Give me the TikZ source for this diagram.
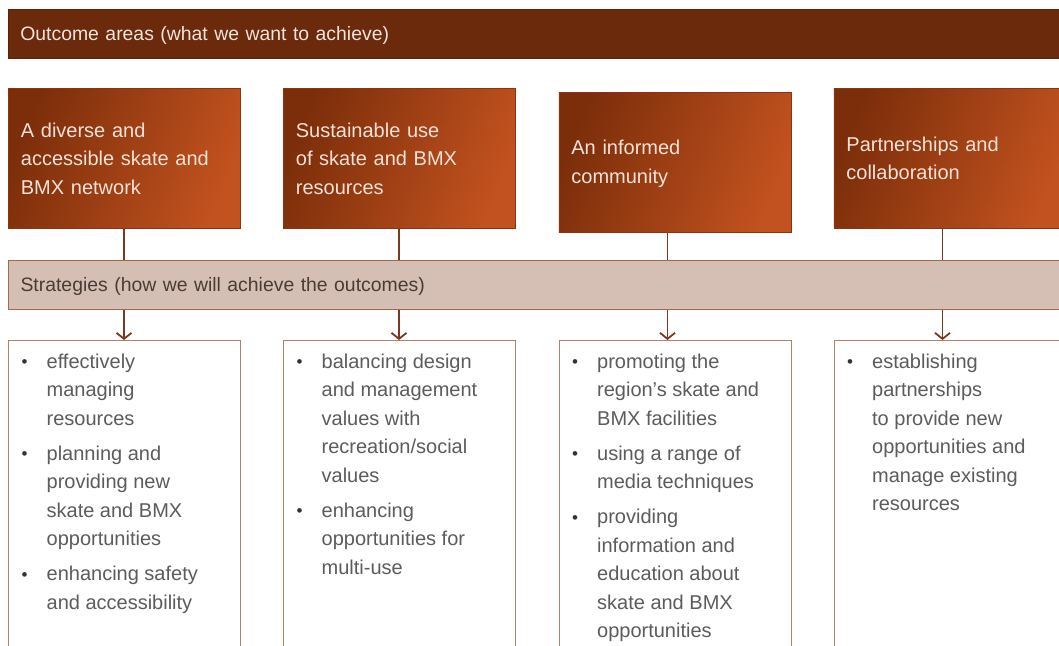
\documentclass[tikz,border=0pt]{standalone}
\usepackage{fontspec}
\setmainfont{Liberation Sans}
\usetikzlibrary{arrows.meta}
\definecolor{bannerc}{HTML}{6A2A0B}
\definecolor{bannertext}{HTML}{F3E4DC}
\definecolor{oc1}{HTML}{7C2E0A}
\definecolor{oc2}{HTML}{C2521F}
\definecolor{ocborder}{HTML}{8A3512}
\definecolor{octext}{HTML}{F4E2D8}
\definecolor{bandc}{HTML}{D5BFB4}
\definecolor{bandborder}{HTML}{A8674C}
\definecolor{bandtext}{HTML}{4A3B35}
\definecolor{connc}{HTML}{7A3820}
\definecolor{boxborder}{HTML}{B3806A}
\definecolor{listc}{HTML}{5C5C5C}
\newcommand{\bul}{\textcolor{black!80}{\raisebox{0.5pt}{\fontsize{17}{17}\selectfont •}}}
\newcommand{\sinktext}[2]{\raisebox{-#1}[\height][\depth]{#2}}
\begin{document}
\begin{tikzpicture}[x=1pt,y=-1pt,
  bannerbox/.style={fill=bannerc, draw=bannerc!85!black, line width=0.6pt, anchor=north west,
    minimum height=49pt, text width=1046pt, inner xsep=12pt, inner ysep=0pt, align=left,
    text=bannertext, font=\fontsize{19.4}{24}\selectfont},
  outcome/.style={left color=oc1, right color=oc2, shading angle=68, draw=ocborder, line width=0.8pt,
    anchor=north west, minimum height=140pt, text width=207pt, inner xsep=12.5pt, inner ysep=0pt,
    align=left, text=octext, font=\fontsize{20}{28.5}\selectfont},
  bandbox/.style={fill=bandc, draw=bandborder, line width=1pt, anchor=north west,
    minimum height=49pt, text width=1046pt, inner xsep=12pt, inner ysep=0pt, align=left,
    text=bandtext, font=\fontsize{19.4}{24}\selectfont},
  listbox/.style={fill=white, draw=boxborder, line width=1.2pt, anchor=north west,
    minimum width=232pt, minimum height=400pt, inner sep=0pt},
  listtext/.style={anchor=north west, inner sep=0pt, text=listc,
    font=\fontsize{20}{28.5}\selectfont},
  conn/.style={draw=connc, line width=1.8pt},
  arr/.style={draw=connc, line width=1.8pt, -{Straight Barb[length=6pt,width=15pt,line width=1.8pt]}}
]
\useasboundingbox (0,0) rectangle (1059,645);
\clip (0,0) rectangle (1059,645);

% banner
\node[bannerbox] (banner) at (8,8.5) {\sinktext{2pt}{Outcome areas (what we want to achieve)}};

% outcome boxes
\node[outcome] (o1) at (8,88) {A diverse and\\accessible skate and\\BMX network};
\node[outcome] (o2) at (283,88) {Sustainable use\\of skate and BMX\\resources};
\node[outcome] (o3) at (558.5,92) {\sinktext{1.5pt}{An informed}\\\sinktext{1.5pt}{community}};
\node[outcome] (o4) at (833.5,88) {Partnerships and\\collaboration};

% strategies band
\node[bandbox] (band) at (8,259.5) {\sinktext{2pt}{Strategies (how we will achieve the outcomes)}};

% list boxes
\node[listbox] (b1) at (8,340) {};
\node[listbox] (b2) at (283,340) {};
\node[listbox] (b3) at (558.5,340) {};
\node[listbox] (b4) at (833.5,340) {};

% connector x positions
\coordinate (x1) at (124,0);
\coordinate (x2) at (399,0);
\coordinate (x3) at (667.5,0);
\coordinate (x4) at (942.5,0);

\foreach \i in {1,2,3,4}{
  \draw[conn] (o\i.south -| x\i) -- (band.north -| x\i);
  \draw[arr] (band.south -| x\i) -- (b\i.north -| x\i);
}

% list texts
\node[listtext] (t1) at ([xshift=13.5pt,yshift=-8pt]b1.north west) {%
\begin{tabular}{@{}l@{\hspace{19pt}}l@{}}
\bul & effectively\\
 & managing\\
 & resources\\[6.5pt]
\bul & planning and\\
 & providing new\\
 & skate and BMX\\
 & opportunities\\[6.5pt]
\bul & enhancing safety\\
 & and accessibility
\end{tabular}};

\node[listtext] (t2) at ([xshift=13.5pt,yshift=-8pt]b2.north west) {%
\begin{tabular}{@{}l@{\hspace{19pt}}l@{}}
\bul & balancing design\\
 & and management\\
 & values with\\
 & recreation/social\\
 & values\\[6.5pt]
\bul & enhancing\\
 & opportunities for\\
 & multi-use
\end{tabular}};

\node[listtext] (t3) at ([xshift=13.5pt,yshift=-8pt]b3.north west) {%
\begin{tabular}{@{}l@{\hspace{19pt}}l@{}}
\bul & promoting the\\
 & region’s skate and\\
 & BMX facilities\\[6.5pt]
\bul & using a range of\\
 & media techniques\\[6.5pt]
\bul & providing\\
 & information and\\
 & education about\\
 & skate and BMX\\
 & opportunities
\end{tabular}};

\node[listtext] (t4) at ([xshift=13.5pt,yshift=-8pt]b4.north west) {%
\begin{tabular}{@{}l@{\hspace{19pt}}l@{}}
\bul & establishing\\
 & partnerships\\
 & to provide new\\
 & opportunities and\\
 & manage existing\\
 & resources
\end{tabular}};
\end{tikzpicture}
\end{document}
